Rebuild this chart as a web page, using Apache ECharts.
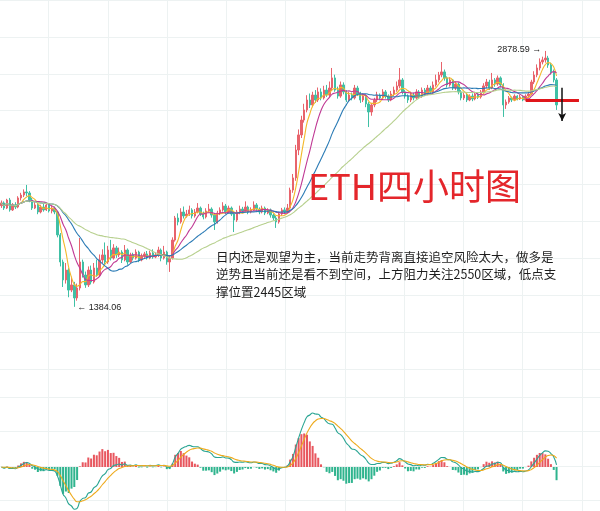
<!DOCTYPE html>
<html>
<head>
<meta charset="utf-8">
<script src="https://cdn.jsdelivr.net/npm/echarts@6/dist/echarts.min.js"></script>
<style>
  html, body { margin: 0; padding: 0; background: #fff; }
  #chart { width: 600px; height: 511px; }
</style>
</head>
<body>
<div id="chart"></div>
<script>
// ETH 4h candles: [open, close, lowest, highest]
const ohlc = [
  [1975,1991,1962,2005],[1991,1961,1950,2000],[1961,2008,1955,2015],[2008,1950,1940,2020],
  [1950,1979,1944,1990],[1979,1967,1955,1995],[1967,2020,1960,2030],[2020,2037,2005,2050],
  [2037,2055,2025,2070],[2055,2049,2030,2096],[2049,2008,1995,2060],[2008,1961,1950,2020],
  [1961,1979,1955,1995],[1979,1938,1925,1990],[1938,1967,1930,1980],[1967,1950,1940,1985],
  [1950,1979,1944,1992],[1979,1944,1935,1990],[1944,1961,1930,1975],[1961,1938,1925,1970],
  [1938,1804,1790,1945],[1804,1646,1620,1815],[1646,1541,1500,1660],[1541,1599,1520,1640],
  [1599,1482,1440,1610],[1482,1512,1470,1560],[1512,1436,1384.06,1530],[1436,1494,1420,1520],
  [1494,1646,1480,1786],[1646,1570,1555,1660],[1570,1512,1495,1590],[1512,1599,1500,1620],
  [1599,1529,1515,1625],[1529,1611,1520,1640],[1611,1570,1560,1660],[1570,1658,1560,1690],
  [1658,1687,1640,1720],[1687,1646,1630,1760],[1646,1716,1635,1740],[1716,1669,1655,1775],
  [1669,1728,1660,1750],[1728,1687,1670,1740],[1687,1704,1675,1730],[1704,1658,1640,1715],
  [1658,1716,1650,1745],[1716,1646,1630,1725],[1646,1687,1640,1700],[1687,1669,1655,1700],
  [1669,1704,1660,1720],[1704,1658,1645,1712],[1658,1681,1650,1695],[1681,1693,1670,1705],
  [1693,1669,1660,1710],[1669,1699,1662,1712],[1699,1675,1665,1720],[1675,1687,1668,1700],
  [1687,1716,1675,1735],[1716,1669,1650,1725],[1669,1704,1660,1740],[1704,1646,1630,1712],
  [1646,1669,1588,1680],[1669,1774,1660,1790],[1774,1903,1765,1915],[1903,1880,1860,1930],
  [1880,1938,1870,1960],[1938,1915,1900,1970],[1915,1926,1905,1950],[1926,1950,1915,1975],
  [1950,1915,1900,1960],[1915,1938,1905,1955],[1938,1961,1930,1990],[1961,1926,1915,1970],
  [1926,1909,1895,1940],[1909,1944,1900,1960],[1944,1955,1935,1985],[1955,1920,1905,1965],
  [1920,1880,1833,1930],[1880,1932,1870,1945],[1932,1950,1920,1965],[1950,1973,1940,1995],
  [1973,1938,1925,1985],[1938,1961,1930,1975],[1961,1926,1915,1970],[1926,1891,1821,1935],
  [1891,1938,1880,1950],[1938,1955,1925,1975],[1955,1944,1930,1968],[1944,1967,1935,2000],
  [1967,1938,1925,1975],[1938,1950,1930,1965],[1950,1979,1945,2000],[1979,1955,1945,1990],
  [1955,1938,1925,1965],[1938,1961,1930,1975],[1961,1932,1920,1970],[1932,1950,1925,1960],
  [1950,1920,1905,1958],[1920,1903,1890,1930],[1903,1880,1845,1915],[1880,1926,1870,1940],
  [1926,1950,1915,1962],[1950,1938,1925,1965],[1938,1961,1930,1985],[1961,2066,1955,2080],
  [2066,2137,2050,2160],[2137,2300,2120,2330],[2300,2388,2270,2420],[2388,2475,2370,2500],
  [2475,2534,2460,2570],[2534,2592,2520,2620],[2592,2563,2545,2630],[2563,2621,2550,2640],
  [2621,2592,2575,2650],[2592,2639,2580,2665],[2639,2604,2590,2660],[2604,2650,2595,2675],
  [2650,2621,2610,2680],[2621,2662,2610,2700],[2662,2721,2650,2779],[2721,2650,2640,2740],
  [2650,2615,2600,2670],[2615,2680,2605,2700],[2680,2639,2625,2695],[2639,2592,2580,2650],
  [2592,2621,2585,2640],[2621,2604,2590,2635],[2604,2662,2595,2680],[2662,2627,2615,2675],
  [2627,2592,2575,2640],[2592,2615,2580,2630],[2615,2569,2550,2625],[2569,2522,2434,2580],
  [2522,2563,2500,2575],[2563,2592,2550,2605],[2592,2621,2580,2640],[2621,2604,2590,2630],
  [2604,2639,2595,2655],[2639,2615,2600,2650],[2615,2592,2580,2625],[2592,2627,2585,2645],
  [2627,2650,2615,2670],[2650,2674,2640,2700],[2674,2709,2660,2779],[2709,2639,2625,2720],
  [2639,2615,2600,2650],[2615,2592,2575,2625],[2592,2621,2580,2640],[2621,2604,2590,2635],
  [2604,2639,2595,2655],[2639,2615,2600,2650],[2615,2650,2605,2665],[2650,2627,2615,2662],
  [2627,2662,2620,2680],[2662,2639,2625,2675],[2639,2680,2630,2700],[2680,2709,2670,2740],
  [2709,2738,2695,2756],[2738,2756,2725,2814],[2756,2721,2705,2770],[2721,2680,2665,2730],
  [2680,2709,2670,2725],[2709,2662,2650,2715],[2662,2685,2650,2700],[2685,2639,2625,2695],
  [2639,2604,2590,2650],[2604,2621,2592,2635],[2621,2592,2580,2630],[2592,2615,2585,2625],
  [2615,2598,2585,2630],[2598,2627,2590,2640],[2627,2610,2598,2635],[2610,2639,2600,2650],
  [2639,2674,2630,2690],[2674,2697,2660,2715],[2697,2662,2650,2710],[2662,2709,2655,2750],
  [2709,2685,2670,2720],[2685,2721,2675,2735],[2721,2680,2665,2730],[2680,2563,2493,2690],
  [2563,2580,2540,2595],[2580,2604,2570,2615],[2604,2592,2580,2612],[2592,2615,2585,2625],
  [2615,2598,2590,2620],[2598,2610,2592,2622],[2610,2592,2585,2618],[2592,2615,2588,2625],
  [2615,2627,2605,2640],[2627,2697,2620,2710],[2697,2738,2685,2760],[2738,2779,2725,2800],
  [2779,2814,2765,2835],[2814,2826,2800,2845],[2826,2837,2810,2878.59],[2837,2796,2780,2850],
  [2796,2756,2740,2810],[2756,2709,2695,2770],[2709,2563,2534,2720]
];

// moving-average periods and colours
const maPeriods = [5, 10, 20, 45];
const maColors = ['#f3b82a', '#c03a95', '#2b7bb5', '#b7d08e'];

// MACD settings: fast EMA, slow EMA, signal EMA
const macdParams = [8, 17, 6];

// hand-drawn annotations on the price panel (category index, price)
const levelLine = { from: 187, to: 206, price: 2588 };
const downArrow = { at: 200, from: 2663, to: 2470 };

const title = 'ETH四小时图';
const note = '日内还是观望为主，当前走势背离直接追空风险太大，做多是\n逆势且当前还是看不到空间，上方阻力关注2550区域，低点支\n撑位置2445区域';

// empty slots keep room on the right for the annotations
const slotCount = 214;
const categories = [];
for (let i = 0; i < slotCount; i++) categories.push(String(i));

const closes = ohlc.map(d => d[1]);

function movingAverage(n) {
  return closes.map((_, i) => {
    const s = Math.max(0, i - n + 1);
    let sum = 0;
    for (let j = s; j <= i; j++) sum += closes[j];
    return +(sum / (i - s + 1)).toFixed(2);
  });
}

function ema(values, n) {
  const k = 2 / (n + 1);
  const out = [];
  values.forEach((v, i) => out.push(i === 0 ? v : out[i - 1] + k * (v - out[i - 1])));
  return out;
}

const emaFast = ema(closes, macdParams[0]);
const emaSlow = ema(closes, macdParams[1]);
const dif = emaFast.map((v, i) => +(v - emaSlow[i]).toFixed(3));
const dea = ema(dif, macdParams[2]).map(v => +v.toFixed(3));
const hist = dif.map((v, i) => +(2 * (v - dea[i])).toFixed(3));

// MACD panel: zero line sits 87px below the top of a 131px tall panel
const difMax = Math.max(...dif);
const macdMax = difMax * 87 / 54;
const macdMin = -difMax * 44 / 54;

const gridColor = '#edf2f2';
const labelFont = { color: '#222', fontSize: 9, fontFamily: 'Liberation Sans' };
const chart = echarts.init(document.getElementById('chart'), null, { renderer: 'canvas' });

const maSeries = maPeriods.map((n, k) => ({
  name: 'MA' + n,
  type: 'line',
  xAxisIndex: 0, yAxisIndex: 0,
  data: movingAverage(n),
  showSymbol: false,
  smooth: true,
  lineStyle: { width: 1.1, color: maColors[k] },
  z: 3
}));

chart.setOption({
  animation: false,
  backgroundColor: '#fff',
  title: [
    {
      text: title, left: 303, top: 160,
      textStyle: { fontFamily: 'Noto Sans CJK SC', fontSize: 36, fontWeight: 'normal', color: '#e4262b', lineHeight: 42 }
    },
    {
      text: note, left: 211, top: 243,
      textStyle: { fontFamily: 'Noto Sans CJK SC', fontSize: 12.5, fontWeight: 'normal', color: '#1e1e1e', lineHeight: 17.5 }
    }
  ],
  grid: [
    { left: 0, right: 0, top: 0, height: 400, outerBoundsMode: 'none' },
    { left: 0, right: 0, top: 380, height: 131, outerBoundsMode: 'none' },
    { left: -10.65, right: 0, top: 0, bottom: 0, outerBoundsMode: 'none' },
    { left: 0, right: 0, top: 0, height: 369, outerBoundsMode: 'none' },
    { left: 0, right: 0, top: 397, height: 103.5, outerBoundsMode: 'none' }
  ],
  xAxis: [
    { type: 'category', gridIndex: 0, data: categories, boundaryGap: true, show: false },
    { type: 'category', gridIndex: 1, data: categories, boundaryGap: true, show: false },
    { type: 'value', gridIndex: 2, min: 0, max: 10.306, interval: 1,
      axisLine: { show: false }, axisTick: { show: false }, axisLabel: { show: false },
      splitLine: { show: true, lineStyle: { color: gridColor, width: 1 } } },
    { type: 'value', gridIndex: 3, show: false, min: 0, max: 1 },
    { type: 'value', gridIndex: 4, show: false, min: 0, max: 1 }
  ],
  yAxis: [
    { type: 'value', gridIndex: 0, min: 840, max: 3176, show: false, splitLine: { show: false } },
    { type: 'value', gridIndex: 1, min: macdMin, max: macdMax, show: false, splitLine: { show: false } },
    { type: 'value', gridIndex: 2, show: false, splitLine: { show: false } },
    { type: 'value', gridIndex: 3, min: 0, max: 10, interval: 1,
      axisLine: { show: false }, axisTick: { show: false }, axisLabel: { show: false },
      splitLine: { show: true, lineStyle: { color: gridColor, width: 1 } } },
    { type: 'value', gridIndex: 4, min: 0, max: 3, interval: 1,
      axisLine: { show: false }, axisTick: { show: false }, axisLabel: { show: false },
      splitLine: { show: true, lineStyle: { color: gridColor, width: 1 } } }
  ],
  series: [
    {
      name: 'ETH',
      type: 'candlestick',
      xAxisIndex: 0, yAxisIndex: 0,
      data: ohlc,
      barWidth: '68%',
      itemStyle: { color: '#e8646c', color0: '#40c0a5', borderColor: '#e8646c', borderColor0: '#40c0a5', borderWidth: 1 },
      markPoint: {
        symbol: 'circle', symbolSize: 0,
        data: [
          { type: 'min', valueDim: 'lowest',
            label: Object.assign({ show: true, position: 'right', distance: 3, offset: [0, 1],
              formatter: p => '← ' + p.value }, labelFont) },
          { type: 'max', valueDim: 'highest',
            label: Object.assign({ show: true, position: 'left', distance: 4, offset: [0, -1],
              formatter: p => p.value + ' →' }, labelFont) }
        ]
      },
      markLine: {
        silent: true,
        symbol: 'none',
        label: { show: false },
        data: [
          [ { coord: [levelLine.from, levelLine.price], lineStyle: { color: '#e0161b', width: 3, type: 'solid' } },
            { coord: [levelLine.to, levelLine.price] } ],
          [ { coord: [downArrow.at, downArrow.from], symbol: 'none', lineStyle: { color: '#111', width: 1.5, type: 'solid' } },
            { coord: [downArrow.at, downArrow.to], symbol: 'arrow', symbolSize: [6, 8] } ]
        ]
      },
      z: 2
    },
    ...maSeries,
    {
      name: 'MACD',
      type: 'bar',
      xAxisIndex: 1, yAxisIndex: 1,
      data: hist.map(v => ({ value: v, itemStyle: { color: v >= 0 ? '#e8575f' : '#2fb48e' } })),
      barWidth: '72%'
    },
    {
      name: 'DIF', type: 'line', xAxisIndex: 1, yAxisIndex: 1,
      data: dif, showSymbol: false, smooth: true,
      lineStyle: { width: 1.1, color: '#2aa593' }, z: 3
    },
    {
      name: 'DEA', type: 'line', xAxisIndex: 1, yAxisIndex: 1,
      data: dea, showSymbol: false, smooth: true,
      lineStyle: { width: 1.1, color: '#eeaa1c' }, z: 3
    }
  ]
});
</script>
</body>
</html>
